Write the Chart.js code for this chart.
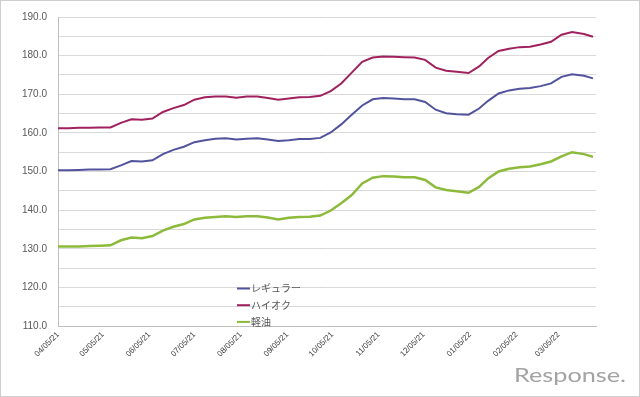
<!DOCTYPE html>
<html>
<head>
<meta charset="utf-8">
<script src="https://cdn.jsdelivr.net/npm/chart.js@4/dist/chart.umd.min.js"></script>
<style>
  html, body { margin: 0; padding: 0; background: #fff; }
  #wrap { width: 640px; height: 397px; position: relative; }
</style>
</head>
<body>
<div id="wrap"><canvas id="c" width="640" height="397"></canvas></div>
<script>
// weekly survey dates
var dates = [
  '2021-04-05','2021-04-12','2021-04-19','2021-04-26','2021-05-03','2021-05-10','2021-05-17','2021-05-24','2021-05-31',
  '2021-06-07','2021-06-14','2021-06-21','2021-06-28','2021-07-05','2021-07-12','2021-07-19','2021-07-26',
  '2021-08-02','2021-08-09','2021-08-16','2021-08-23','2021-08-30','2021-09-06','2021-09-13','2021-09-20','2021-09-27',
  '2021-10-04','2021-10-11','2021-10-18','2021-10-25','2021-11-01','2021-11-08','2021-11-15','2021-11-22','2021-11-29',
  '2021-12-06','2021-12-13','2021-12-20','2021-12-27','2022-01-04','2022-01-11','2022-01-17','2022-01-24','2022-01-31',
  '2022-02-07','2022-02-14','2022-02-21','2022-02-28','2022-03-07','2022-03-14','2022-03-22','2022-03-28'
]
var regular = [
  150.3,150.3,150.4,150.5,150.5,150.6,151.6,152.7,152.6,152.9,154.5,155.6,156.4,157.6,158.1,158.5,158.6,
  158.3,158.5,158.6,158.3,157.9,158.1,158.4,158.4,158.7,160.1,162.2,164.7,167.1,168.7,169.0,168.9,168.7,168.7,
  168.0,166.0,165.1,164.8,164.7,166.3,168.3,170.2,171.0,171.4,171.6,172.1,172.8,174.5,175.2,174.8,174.1
]
var highOctane = [
  161.2,161.2,161.3,161.3,161.4,161.4,162.6,163.5,163.4,163.7,165.4,166.4,167.2,168.6,169.2,169.4,169.4,
  169.1,169.4,169.4,169.0,168.6,168.9,169.2,169.3,169.6,170.8,172.8,175.6,178.4,179.5,179.8,179.7,179.6,179.5,
  178.9,176.9,176.1,175.8,175.5,177.2,179.4,181.2,181.8,182.2,182.3,182.9,183.6,185.4,186.1,185.6,184.9
]
var diesel = [
  130.6,130.6,130.6,130.7,130.8,130.9,132.2,132.9,132.7,133.3,134.7,135.7,136.4,137.6,138.0,138.2,138.4,
  138.2,138.4,138.4,138.1,137.6,138.0,138.2,138.3,138.6,139.9,141.8,143.9,146.9,148.4,148.8,148.7,148.5,148.5,
  147.8,145.9,145.2,144.9,144.5,146.0,148.2,150.0,150.7,151.1,151.3,151.9,152.6,153.9,155.0,154.5,153.8
]
var seriesNames = ['レギュラー', 'ハイオク', '軽油']
var tickDates = ['2021-04-05','2021-05-05','2021-06-05','2021-07-05','2021-08-05','2021-09-05',
  '2021-10-05','2021-11-05','2021-12-05','2022-01-05','2022-02-05','2022-03-05']
var axisEnd = '2022-03-30'

var start = Date.parse(dates[0])
function dayNum(s){ return Math.round((Date.parse(s) - start) / 86400000) }
function fmt(s){ var p = s.split('-'); return p[1] + '/' + p[2] + '/' + p[0].slice(2) }

function pts(vals){ return vals.map(function(v, i){ return {x: dayNum(dates[i]), y: v} }) }

var colors = ['#52539d', '#a0215d', '#8cba3b']
var tickLabel = {}
tickDates.forEach(function(d){ tickLabel[dayNum(d)] = fmt(d) })

var extras = {
  id: 'extras',
  afterDraw: function(chart){
    var ctx = chart.ctx
    ctx.save()
    // legend inside the plot
    chart.data.datasets.forEach(function(ds, i){
      var y = 288.5 + i * 16.7
      ctx.strokeStyle = ds.borderColor
      ctx.lineWidth = 2
      ctx.beginPath(); ctx.moveTo(237, y); ctx.lineTo(250, y); ctx.stroke()
      ctx.fillStyle = '#595959'
      ctx.font = '10px "Noto Sans CJK JP", sans-serif'
      ctx.textBaseline = 'middle'
      ctx.fillText(ds.label, 251, y)
    })
    // watermark
    ctx.fillStyle = '#a3a3a3'
    ctx.font = '20px "Lato", sans-serif'
    ctx.textBaseline = 'alphabetic'
    var w = ctx.measureText('Response.').width
    ctx.save()
    ctx.translate(514, 382)
    ctx.scale(112 / w, 1)
    ctx.fillText('Response.', 0, 0)
    ctx.restore()
    // frame
    ctx.strokeStyle = '#cfcfcf'
    ctx.lineWidth = 1
    ctx.strokeRect(0.5, 0.5, 639, 396)
    ctx.restore()
  }
}

var chart = new Chart(document.getElementById('c'), {
  type: 'line',
  data: {
    datasets: [
      {label: seriesNames[0], data: pts(regular), borderColor: colors[0], backgroundColor: colors[0], borderWidth: 2},
      {label: seriesNames[1], data: pts(highOctane), borderColor: colors[1], backgroundColor: colors[1], borderWidth: 2},
      {label: seriesNames[2], data: pts(diesel), borderColor: colors[2], backgroundColor: colors[2], borderWidth: 2.5}
    ]
  },
  options: {
    responsive: false,
    animation: false,
    layout: {padding: {left: 0, right: 44, top: 12, bottom: 0}},
    elements: {point: {radius: 0}, line: {tension: 0}},
    plugins: {legend: {display: false}, tooltip: {enabled: false}},
    scales: {
      x: {
        type: 'linear',
        min: 0,
        max: dayNum(axisEnd),
        grid: {display: false, drawTicks: false},
        border: {display: true, color: '#bfbfbf'},
        afterBuildTicks: function(axis){
          axis.ticks = tickDates.map(function(d){ return {value: dayNum(d)} })
        },
        afterFit: function(scale){ scale.height = 71 },
        ticks: {
          autoSkip: false,
          minRotation: 45,
          maxRotation: 45,
          padding: 4,
          color: '#404040',
          font: {family: '"Liberation Sans", Arial, sans-serif', size: 8},
          callback: function(v){ return tickLabel[v] || '' }
        }
      },
      y: {
        min: 110,
        max: 190,
        grid: {color: '#d9d9d9', drawTicks: false},
        border: {display: true, color: '#bfbfbf'},
        afterFit: function(scale){ scale.width = 58 },
        ticks: {
          stepSize: 5,
          padding: 11,
          color: '#595959',
          font: {family: '"Liberation Sans", Arial, sans-serif', size: 10},
          callback: function(v){ return v % 10 === 0 ? v.toFixed(1) : '' }
        }
      }
    }
  },
  plugins: [extras]
})
</script>
</body>
</html>
